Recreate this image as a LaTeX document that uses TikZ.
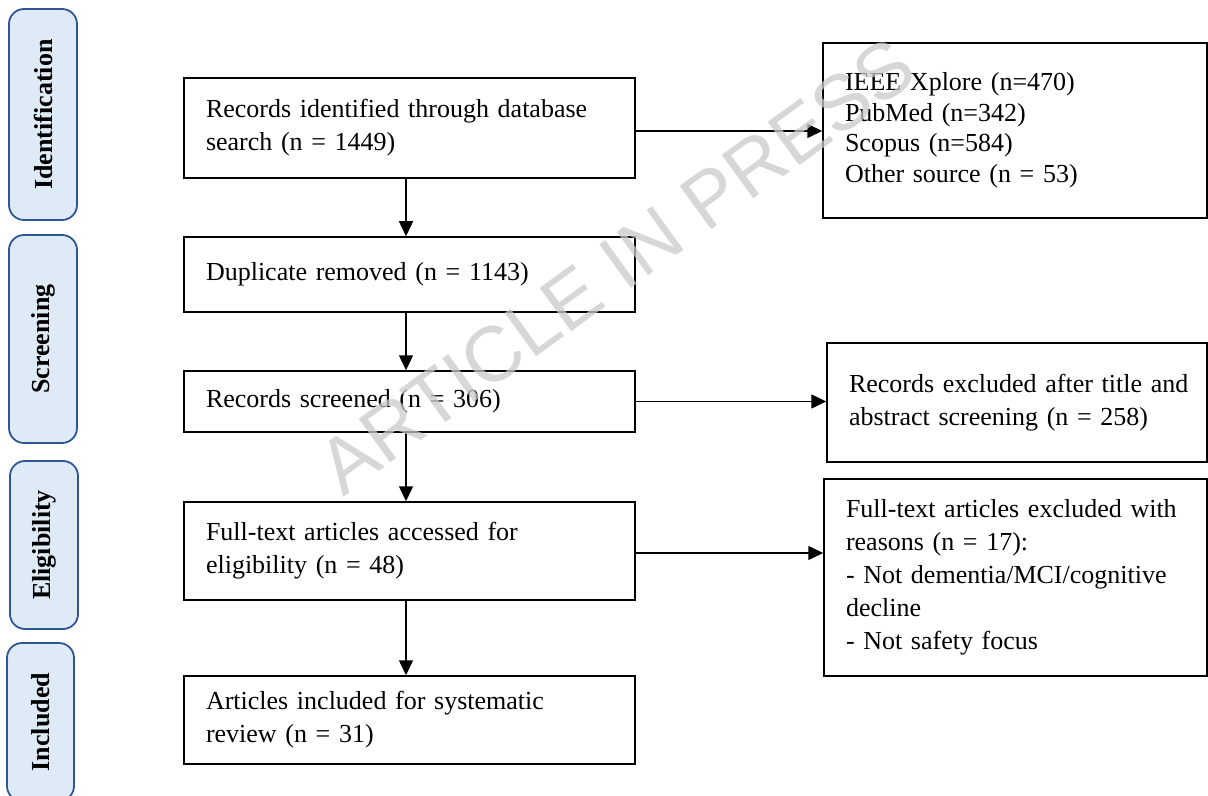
\documentclass[tikz,border=0pt]{standalone}
\usepackage{fontspec}
\setmainfont{Liberation Serif}
\newfontfamily\wmfont{Liberation Sans}
\usetikzlibrary{arrows.meta}
\definecolor{tabline}{RGB}{47,85,151}
\definecolor{tabfill}{RGB}{222,234,246}
\definecolor{wmgray}{RGB}{201,201,201}
\tikzset{
  box/.style={draw=black, line width=0.75pt, inner xsep=11pt, inner ysep=0pt, align=left,
    font=\fontsize{13}{16.5}\selectfont},
  mainbox/.style={box, minimum width=225.5pt, text width=203.5pt},
  tab/.style={draw=tabline, fill=tabfill, line width=0.9pt, rounded corners=7.5pt, rotate=90,
    inner sep=0pt, font=\fontsize{13}{16}\selectfont\bfseries},
  arr/.style={line width=0.75pt, -{Triangle[length=7.5pt,width=7pt]}},
  wm/.style={text=wmgray, opacity=0.75, font=\wmfont\fontsize{39}{39}\selectfont, inner sep=0pt}
}
\begin{document}
\begin{tikzpicture}[x=0.5pt, y=-0.5pt]
\useasboundingbox (0,0) rectangle (1208,796);
\clip (0,0) rectangle (1208,796);
% stage tabs
\node[tab, minimum width=105.5pt, minimum height=34pt] (tid) at (43,114.5) {Identification};
\node[tab, minimum width=104pt, minimum height=34pt] (tsc) at (43,339) {Screening};
\node[tab, minimum width=84pt, minimum height=34pt] (tel) at (44,545) {Eligibility};
\node[tab, minimum width=79pt, minimum height=33.5pt] (tin) at (40.5,722) {Included};
% main column
\node[mainbox, minimum height=50pt] (b1) at (409.5,128) {Records identified through database\\search (n = 1449)};
\node[mainbox, minimum height=37.5pt] (dup) at (409.5,274.5) {Duplicate removed (n = 1143)};
\node[mainbox, minimum height=30.5pt] (scr) at (409.5,401.5) {Records screened (n = 306)};
\node[mainbox, minimum height=49pt] (fta) at (409.5,551) {Full-text articles accessed for\\eligibility (n = 48)};
\node[mainbox, minimum height=44pt] (inc) at (409.5,720) {Articles included for systematic\\review (n = 31)};
% right column
\node[box, minimum width=192pt, text width=170pt, minimum height=87.5pt,
  font=\fontsize{13}{15.25}\selectfont] (ieee) at (1015,130.5)
  {IEEE Xplore (n=470)\\PubMed (n=342)\\Scopus (n=584)\\Other source (n = 53)};
\node[box, minimum width=190pt, text width=168pt, minimum height=59.5pt] (rex) at (1017,402.5)
  {\mbox{Records excluded after title and}\\abstract screening (n = 258)};
\node[box, minimum width=191.5pt, text width=169.5pt, minimum height=98.5pt] (ftex) at (1015.5,577.5)
  {\mbox{Full-text articles excluded with}\\reasons (n = 17):\\- Not dementia/MCI/cognitive\\decline\\- Not safety focus};
% connectors
\draw[arr] ([xshift=-1.75pt]b1.south) -- ([xshift=-1.75pt]dup.north);
\draw[arr] ([xshift=-1.75pt]dup.south) -- ([xshift=-1.75pt]scr.north);
\draw[arr] ([xshift=-1.75pt]scr.south) -- ([xshift=-1.75pt]fta.north);
\draw[arr] ([xshift=-1.75pt]fta.south) -- ([xshift=-1.75pt]inc.north);
\draw[arr] ([yshift=-1.5pt]b1.east) -- ([yshift=-1.5pt]b1.east -| ieee.west);
\draw[arr] (scr.east) -- (scr.east -| rex.west);
\draw[arr] ([yshift=-1pt]fta.east) -- ([yshift=-1pt]fta.east -| ftex.west);
% watermark
\node[wm, rotate=36] (wmark) at (616,266) {ARTICLE IN PRESS};
\end{tikzpicture}
\end{document}
